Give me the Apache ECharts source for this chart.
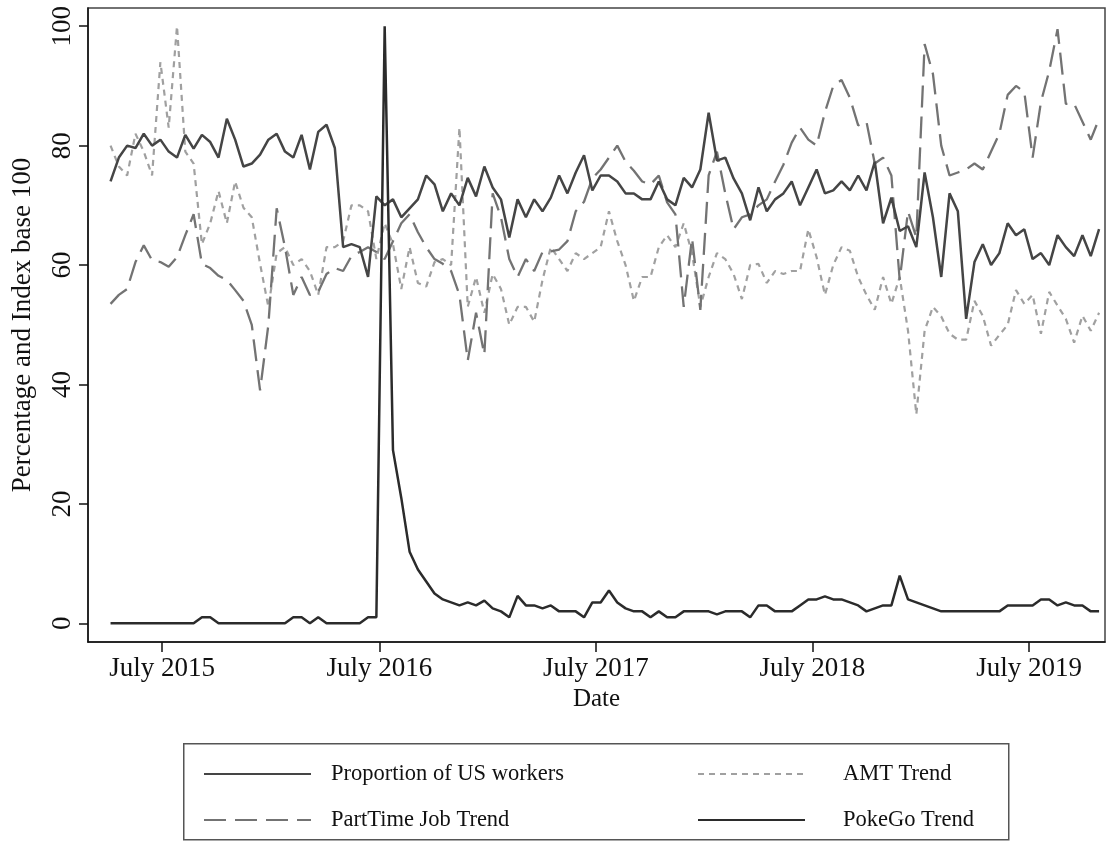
<!DOCTYPE html>
<html><head><meta charset="utf-8">
<script src="https://cdn.jsdelivr.net/npm/echarts@6/dist/echarts.min.js"></script>
<style>html,body{margin:0;padding:0;background:#fff}#c{width:1116px;height:841px}</style>
</head><body><div id="c"></div>
<script>
// Weekly-sampled Google-Trends style data, read every two weeks from the figure
const startDate = '2015-04-05';
const stepDays = 14;
const xTickDates = ['2015-07-01', '2016-07-01', '2017-07-01', '2018-07-01', '2019-07-01'];
const xTickLabels = ['July 2015', 'July 2016', 'July 2017', 'July 2018', 'July 2019'];
const yTicks = [0, 20, 40, 60, 80, 100];
const seriesNames = ['Proportion of US workers', 'PartTime Job Trend', 'AMT Trend', 'PokeGo Trend'];

const proportionUS = [
  74,78,80,79.6,82,80,81,79,78,81.8,
  79.5,81.8,80.6,78,84.5,81,76.5,77,78.5,81,
  82,79,78,81.8,76,82.3,83.5,79.6,63,63.5,
  63,58,71.5,70,71,68,69.5,71,75,73.5,
  69,72,70,74.6,71.5,76.5,73,71,64.6,71,
  68,71,69,71.3,75,72,75.5,78.4,72.5,75,
  75,74,72,72,71,71,74,71,70,74.6,
  73,76,85.5,77.5,78,74.5,72,67.5,73,69,
  71,72,74,70,73,76,72,72.5,74,72.5,
  75,72.5,77.3,67,71.3,65.7,66.5,63,75.5,68,
  58,72,69,51,60.5,63.5,60,62,67,65,
  66,61,62,60,65,63,61.5,65,61.5,66
];
const partTimeTrend = [
  53.5,55,56,60.5,63.3,60.8,60.5,59.7,61.3,65,
  68.5,60.2,59.5,58.2,57.5,55.8,54,50,39,50,
  69.5,63,55,58,55,55.5,58.5,59.5,59,61.5,
  62.2,63,62.2,61,64,67,68.5,65.5,63,61,
  60.2,59,55,44,52,45,72,68,61,58,
  61,59,62.2,62.3,62.6,64,69,70.6,74.5,76,
  78,80,77.3,75.8,74,73.5,75,70.5,68.5,53,
  64.5,52.5,75,79,72,66,68,68.5,70,71,
  74,76.8,80.5,83,81,80,85.6,90,91,88,
  83.4,84,77,78,75,57.5,69,64.6,97,92,
  80,75,75.5,76,77,76,79,82,88.5,90,
  89,78,87.3,92.5,99.5,87,87,84,81,84.5
];
const amtTrend = [
  80,76.5,75,82,79,75,94,83,100,79,
  77,63.5,67,72.4,67,74,69.6,68,60.2,53,
  62,63,60,61,59,55,63,63,64,70,
  70,69,61,67,63.5,56,63,57,56.4,60.5,
  61,60,83,53,58,52,58.5,56,50,53,
  53,50.5,57.5,63,61,59,62,61,62,63,
  69,64,60,54,58,58,63,65,63,67,
  62,53,58,62,61,58.5,54.3,60,60.2,57,
  59,58.5,59,59,66,61.3,55,60,63,62.4,
  58,55,52.5,58,53.5,58,49,35,49,53,
  51.4,48.5,47.5,47.5,54,51.5,46.5,48.3,50,55.8,
  53.5,55,48.5,55.5,53.2,51,47,51.5,49,52
];
const pokeGoTrend = [
  0,0,0,0,0,0,0,0,0,0,
  0,1,1,0,0,0,0,0,0,0,
  0,0,1,1,0,1,0,0,0,0,
  0,1,1,100,29,21,12,9,7,5,
  4,3.5,3,3.5,3,3.8,2.5,2,1,4.6,
  3,3,2.5,3,2,2,2,1,3.5,3.5,
  5.5,3.5,2.5,2,2,1,2,1,1,2,
  2,2,2,1.5,2,2,2,1,3,3,
  2,2,2,3,4,4,4.5,4,4,3.5,
  3,2,2.5,3,3,8,4,3.5,3,2.5,
  2,2,2,2,2,2,2,2,3,3,
  3,3,4,4,3,3.5,3,3,2,2
];

const DAY = 86400000;
const t0 = Date.parse(startDate + 'T00:00:00Z');
function pairs(vals) { return vals.map((v, i) => [t0 + i * stepDays * DAY, v]); }
const tickTimes = xTickDates.map(d => Date.parse(d + 'T00:00:00Z'));

const FONT = 'Liberation Serif';
const chart = echarts.init(document.getElementById('c'), null, { renderer: 'canvas' });

const styles = {
  'Proportion of US workers': { color: '#454545', width: 2.5, type: 'solid' },
  'PartTime Job Trend': { color: '#737373', width: 2.3, type: [22, 9] },
  'AMT Trend': { color: '#a0a0a0', width: 2.2, type: [6, 5] },
  'PokeGo Trend': { color: '#2b2b2b', width: 2.5, type: 'solid' }
};
const dataMap = {
  'Proportion of US workers': proportionUS,
  'PartTime Job Trend': partTimeTrend,
  'AMT Trend': amtTrend,
  'PokeGo Trend': pokeGoTrend
};
const drawOrder = ['AMT Trend', 'PartTime Job Trend', 'Proportion of US workers', 'PokeGo Trend'];

function legendAt(name, left, top, textPad) {
  return {
    data: [name], left: left, top: top, orient: 'horizontal',
    itemWidth: 107, itemHeight: 26, padding: 0, selectedMode: false,
    itemStyle: { opacity: 0, color: 'rgba(0,0,0,0)', borderWidth: 0 },
    textStyle: { fontFamily: FONT, fontSize: 22.5, color: '#111', padding: [0, 0, 0, textPad], lineHeight: 26 }
  };
}

chart.setOption({
  animation: false,
  backgroundColor: '#fff',
  grid: { left: 88, top: 8, right: 11, bottom: 199, show: true, borderColor: '#444', borderWidth: 1.5, backgroundColor: 'transparent' },
  xAxis: {
    type: 'value',
    min: Date.parse('2015-02-26T00:00:00Z'),
    max: Date.parse('2019-11-06T00:00:00Z'),
    name: 'Date', nameLocation: 'middle', nameGap: 44,
    nameTextStyle: { fontFamily: FONT, fontSize: 25, color: '#111' },
    axisLine: { show: true, onZero: false, lineStyle: { color: '#111', width: 1.5 } },
    axisTick: { show: true, length: 10, lineStyle: { color: '#111', width: 1.5 }, customValues: tickTimes },
    axisLabel: {
      fontFamily: FONT, fontSize: 27, color: '#111', margin: 13,
      customValues: tickTimes,
      formatter: function (v) { const i = tickTimes.indexOf(v); return i >= 0 ? xTickLabels[i] : ''; }
    },
    splitLine: { show: false }
  },
  yAxis: {
    type: 'value', min: -3.13, max: 103.05,
    name: 'Percentage and Index base 100', nameLocation: 'middle', nameGap: 52, nameRotate: 90,
    nameTextStyle: { fontFamily: FONT, fontSize: 27, color: '#111' },
    axisLine: { show: true, onZero: false, lineStyle: { color: '#111', width: 1.5 } },
    axisTick: { show: true, length: 9, lineStyle: { color: '#111', width: 1.5 }, customValues: yTicks },
    axisLabel: { fontFamily: FONT, fontSize: 27, color: '#111', rotate: 90, margin: 12, customValues: yTicks },
    splitLine: { show: false }
  },
  legend: [
    legendAt('Proportion of US workers', 203, 761, 15),
    legendAt('PartTime Job Trend', 203, 807, 15),
    legendAt('AMT Trend', 697, 761, 33),
    legendAt('PokeGo Trend', 697, 807, 33)
  ],
  graphic: [{
    type: 'rect', left: 183, top: 743, z: -1,
    shape: { width: 825, height: 96 },
    style: { fill: '#fff', stroke: '#555', lineWidth: 1.5 }
  }],
  series: drawOrder.map(name => ({
    name: name, type: 'line', data: pairs(dataMap[name]),
    symbol: 'none', showSymbol: false, smooth: false,
    lineStyle: styles[name], itemStyle: { color: styles[name].color },
    emphasis: { disabled: true }
  }))
});
</script>
</body></html>
